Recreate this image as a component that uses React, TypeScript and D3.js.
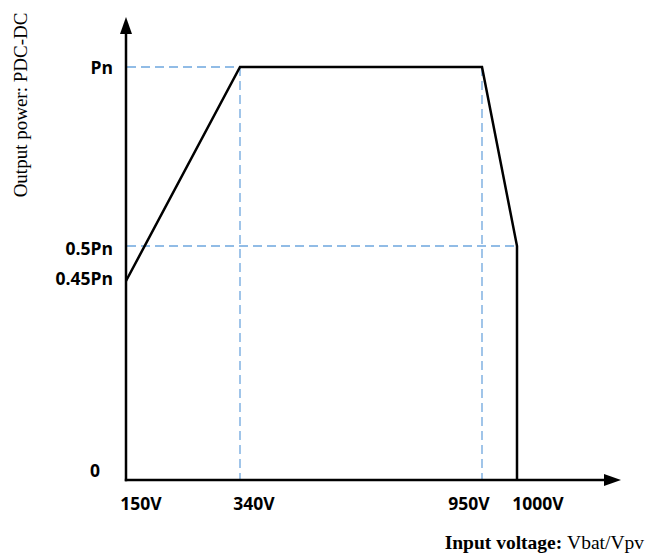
import React from 'react'
import * as d3 from 'd3'

// schematic derating curve: input voltage (V) vs output power (fraction of Pn)
const voltTicks = [150, 340, 950, 1000]
const voltLabels = ['150V', '340V', '950V', '1000V']
const powerTicks = [0, 0.45, 0.5, 1]
const powerLabels = ['0', '0.45Pn', '0.5Pn', 'Pn']
const curveVolt = [150, 340, 950, 1000, 1000]
const curvePower = [0.45, 1, 1, 0.5, 0]

export default function App() {
  const W = 647
  const H = 559

  // axis is not to scale in the original, so piecewise linear scales
  const x = d3.scaleLinear().domain(voltTicks).range([126, 240, 482, 517])
  const y = d3.scaleLinear().domain(powerTicks).range([480, 281, 246, 67])

  const x0 = x(150)
  const y0 = y(0)

  const pts: [number, number][] = curveVolt.map((v, i) => [x(v), y(curvePower[i])])
  const line = d3.line()(pts) || ''

  const blue = '#6ea6de'
  const dash = '9,5'

  // label nudges relative to tick position
  const xLabelDx = [15, 14, -13, 21]
  const yLabelDx = [-26, -13, -13, -13]
  const yLabelDy = [-3, 4, 9, 7]

  return (
    <svg width={W} height={H} style={{ position: 'absolute', left: 0, top: 0, background: '#fff' }}>
      {/* guide lines */}
      <g stroke={blue} strokeWidth={1.3} strokeDasharray={dash}>
        <line x1={x0 + 1} x2={x(340)} y1={y(1)} y2={y(1)} />
        <line x1={x0 + 1} x2={x(1000)} y1={y(0.5)} y2={y(0.5)} />
        <line x1={x(340)} x2={x(340)} y1={y(1)} y2={y0} />
        <line x1={x(950)} x2={x(950)} y1={y(1)} y2={y0} />
      </g>

      {/* curve */}
      <path d={line} fill="none" stroke="#000" strokeWidth={2.5} strokeLinejoin="miter" />

      {/* axes */}
      <line x1={x0} x2={x0} y1={y0 + 1.2} y2={30} stroke="#000" strokeWidth={2.5} />
      <polygon points={`${x0},17 ${x0 - 6},34 ${x0 + 6},34`} fill="#000" />
      <line x1={x0 - 1.2} x2={608} y1={y0} y2={y0} stroke="#000" strokeWidth={2.5} />
      <polygon points={`621,${y0} 604,${y0 - 6} 604,${y0 + 6}`} fill="#000" />

      {/* tick labels */}
      <g fontFamily="'Open Sans', sans-serif" fontWeight="bold" fontSize={17.5} fill="#000">
        {voltTicks.map((v, i) => (
          <text key={v} x={x(v) + xLabelDx[i]} y={y0 + 30} textAnchor="middle">{voltLabels[i]}</text>
        ))}
        {powerTicks.map((p, i) => (
          <text key={p} x={x0 + yLabelDx[i]} y={y(p) + yLabelDy[i]} textAnchor="end">{powerLabels[i]}</text>
        ))}
      </g>

      {/* axis titles */}
      <text transform="translate(27,105) rotate(-90)" textAnchor="middle"
        fontFamily="'Liberation Serif', 'Times New Roman', serif" fontSize={19}>
        Output power: PDC-DC
      </text>
      <text x={644} y={549} textAnchor="end" fontFamily="'Liberation Serif', 'Times New Roman', serif" fontSize={19.5}>
        <tspan fontWeight="bold">Input voltage: </tspan>Vbat/Vpv
      </text>
    </svg>
  )
}
